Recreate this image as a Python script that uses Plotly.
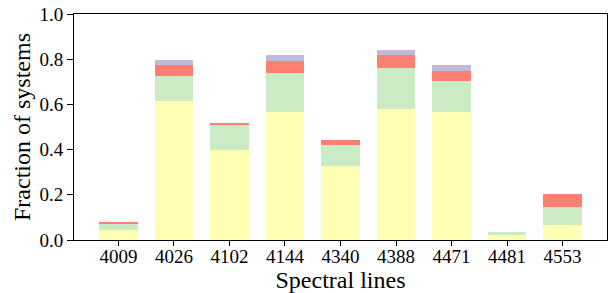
import plotly.graph_objects as go

categories = ["4009", "4026", "4102", "4144", "4340", "4388", "4471", "4481", "4553"]
series_a = [0.044, 0.613, 0.399, 0.567, 0.328, 0.580, 0.567, 0.022, 0.066]
series_b = [0.027, 0.114, 0.111, 0.173, 0.093, 0.182, 0.138, 0.013, 0.080]
series_c = [0.010, 0.048, 0.004, 0.053, 0.022, 0.058, 0.044, 0.000, 0.058]
series_d = [0.000, 0.022, 0.000, 0.027, 0.000, 0.022, 0.026, 0.000, 0.000]

series = [
    ("A", series_a, "#ffffb3"),
    ("B", series_b, "#ccebc5"),
    ("C", series_c, "#fb8072"),
    ("D", series_d, "#bebada"),
]

fig = go.Figure()
for name, vals, color in series:
    fig.add_trace(go.Bar(x=categories, y=vals, name=name, marker_color=color,
                         marker_line_width=0))

font = "Liberation Serif, Times New Roman, serif"
fig.update_layout(
    barmode="stack",
    bargap=0.3,
    width=615, height=293,
    margin=dict(l=74, r=8, t=14, b=53, autoexpand=False),
    plot_bgcolor="white", paper_bgcolor="white",
    showlegend=False,
    font=dict(family=font, size=19, color="black"),
)
fig.update_xaxes(
    type="category", range=[-0.8, 8.8], automargin=True,
    showline=True, linecolor="black", linewidth=1, mirror=True,
    ticks="outside", ticklen=5, tickcolor="black",
    ticklabelstandoff=-6,
    showgrid=False,
    title=dict(text="Spectral lines", font=dict(size=24), standoff=0),
    tickfont=dict(size=19),
)
fig.update_yaxes(
    range=[0, 1.0], tickvals=[0, 0.2, 0.4, 0.6, 0.8, 1.0], tickformat=".1f",
    automargin=True,
    showline=True, linecolor="black", linewidth=1, mirror=True,
    ticks="outside", ticklen=6, tickcolor="black",
    showgrid=False, zeroline=False,
    title=dict(text="Fraction of systems", font=dict(size=24), standoff=2),
    tickfont=dict(size=19),
)
fig.write_html("out.html", config={"displayModeBar": False},
               post_script="document.body.style.margin='0';document.body.style.overflow='hidden';")
